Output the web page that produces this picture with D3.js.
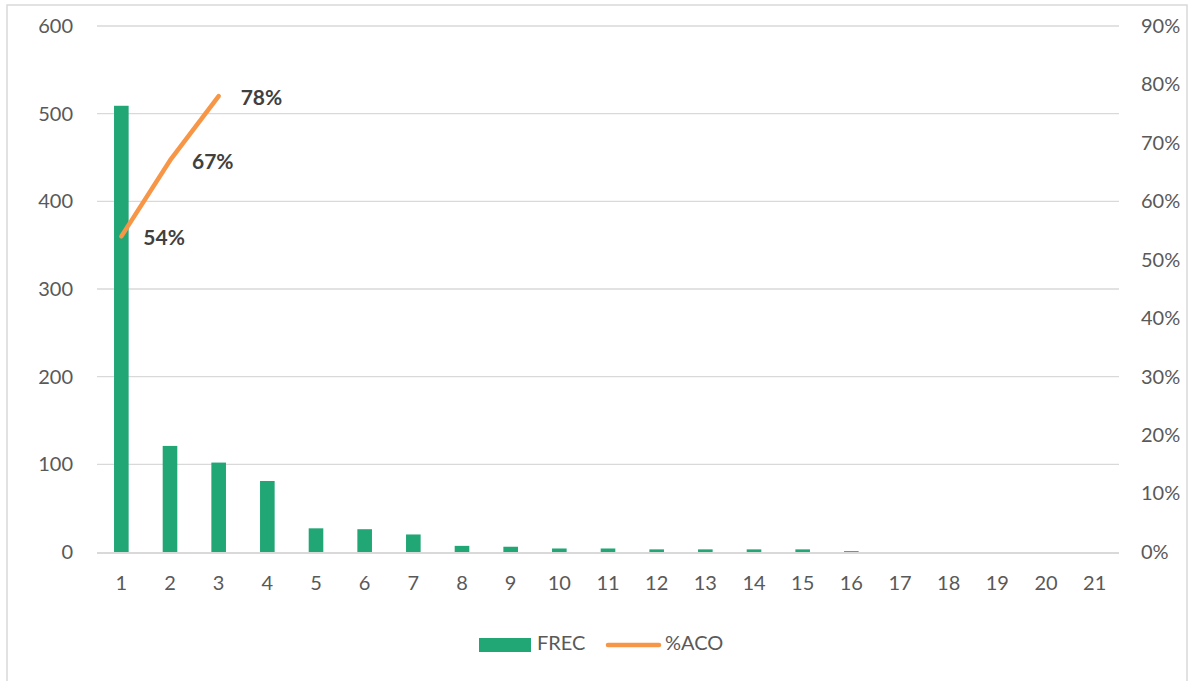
<!DOCTYPE html>
<html>
<head>
<meta charset="utf-8">
<script src="https://cdn.jsdelivr.net/npm/d3@7"></script>
<style>
  html, body { margin: 0; padding: 0; background: #fff; }
  svg { display: block; }
</style>
</head>
<body>
<svg id="chart" width="1194" height="681"></svg>
<script>
// Categories along the x axis
const categories = ["1","2","3","4","5","6","7","8","9","10","11","12","13","14","15","16","17","18","19","20","21"];
// Frequency per category (left axis)
const frec = [509, 121, 102, 81, 27, 26, 20, 7, 6, 4, 4, 3, 3, 3, 3, 1, 0, 0, 0, 0, 0];
// Cumulative percentage (right axis), only the first categories
const acoCategories = ["1", "2", "3"];
const aco = [0.54, 0.67, 0.78];
// Tick values
const leftTicks = [0, 100, 200, 300, 400, 500, 600];
const rightTicks = [0, 0.1, 0.2, 0.3, 0.4, 0.5, 0.6, 0.7, 0.8, 0.9];

const barColor = "#21A675";
const lineColor = "#F79646";
const gridColor = "#D9D9D9";
const textColor = "#595959";
const font = "Lato, 'Open Sans', sans-serif";

const svg = d3.select("#chart");
const plot = { left: 97, right: 1119, top: 26, bottom: 552 };

// Outer frame
svg.append("rect")
  .attr("x", 7).attr("y", 5)
  .attr("width", 1180).attr("height", 690)
  .attr("fill", "#fff").attr("stroke", gridColor).attr("stroke-width", 1.5);

const x = d3.scaleBand().domain(categories).range([plot.left, plot.right]).paddingInner(0.7).paddingOuter(0.35);
const xPoint = c => x(c) + x.bandwidth() / 2;
const y = d3.scaleLinear().domain([0, 600]).range([plot.bottom, plot.top]);
const y2 = d3.scaleLinear().domain([0, 0.9]).range([plot.bottom, plot.top]);

// Horizontal gridlines
svg.append("g").selectAll("line").data(leftTicks.filter(d => d > 0)).join("line")
  .attr("x1", plot.left).attr("x2", plot.right)
  .attr("y1", d => y(d)).attr("y2", d => y(d))
  .attr("stroke", gridColor).attr("stroke-width", 1.3);

// Baseline
svg.append("line")
  .attr("x1", plot.left).attr("x2", plot.right)
  .attr("y1", y(0) + 1).attr("y2", y(0) + 1)
  .attr("stroke", gridColor).attr("stroke-width", 2);

// Left axis
const leftAxis = svg.append("g")
  .attr("transform", `translate(${plot.left},0)`)
  .call(d3.axisLeft(y).tickValues(leftTicks).tickSize(0).tickPadding(24));
leftAxis.select(".domain").remove();
leftAxis.selectAll("text").attr("fill", textColor).style("font-family", font).style("font-size", "20px");

// Right axis
const rightAxis = svg.append("g")
  .attr("transform", `translate(${plot.right},0)`)
  .call(d3.axisRight(y2).tickValues(rightTicks).tickFormat(d3.format(".0%")).tickSize(0).tickPadding(22));
rightAxis.select(".domain").remove();
rightAxis.selectAll("text").attr("fill", textColor).style("font-family", font).style("font-size", "20px");

// Bars
svg.append("g").selectAll("rect").data(frec).join("rect")
  .attr("x", (d, i) => x(categories[i]))
  .attr("y", d => y(d))
  .attr("width", x.bandwidth())
  .attr("height", d => y(0) - y(d))
  .attr("fill", barColor);

// Bottom axis labels
const bottomAxis = svg.append("g")
  .attr("transform", `translate(0,${plot.bottom})`)
  .call(d3.axisBottom(x).tickSize(0).tickPadding(24));
bottomAxis.select(".domain").remove();
bottomAxis.selectAll("text").attr("fill", textColor).style("font-family", font).style("font-size", "20px");

// Cumulative line
const line = d3.line().x((d, i) => xPoint(acoCategories[i])).y(d => y2(d));
svg.append("path").datum(aco)
  .attr("d", line)
  .attr("fill", "none").attr("stroke", lineColor)
  .attr("stroke-width", 4.5).attr("stroke-linecap", "round").attr("stroke-linejoin", "round");

// Line value labels
svg.append("g").selectAll("text").data(aco).join("text")
  .attr("x", (d, i) => xPoint(acoCategories[i]) + 22)
  .attr("y", d => y2(d) + 3)
  .attr("dominant-baseline", "middle")
  .attr("fill", "#404040")
  .style("font-family", font).style("font-size", "21px").style("font-weight", "bold")
  .text(d => d3.format(".0%")(d));

// Legend
const legend = svg.append("g").style("font-family", font).style("font-size", "20px");
legend.append("rect").attr("x", 479).attr("y", 638).attr("width", 52).attr("height", 14).attr("fill", barColor);
legend.append("text").attr("x", 537).attr("y", 645).attr("dominant-baseline", "middle").attr("fill", textColor).text("FREC");
legend.append("line").attr("x1", 608).attr("x2", 659).attr("y1", 645).attr("y2", 645)
  .attr("stroke", lineColor).attr("stroke-width", 4.5).attr("stroke-linecap", "round");
legend.append("text").attr("x", 665).attr("y", 645).attr("dominant-baseline", "middle").attr("fill", textColor).text("%ACO");
</script>
</body>
</html>
